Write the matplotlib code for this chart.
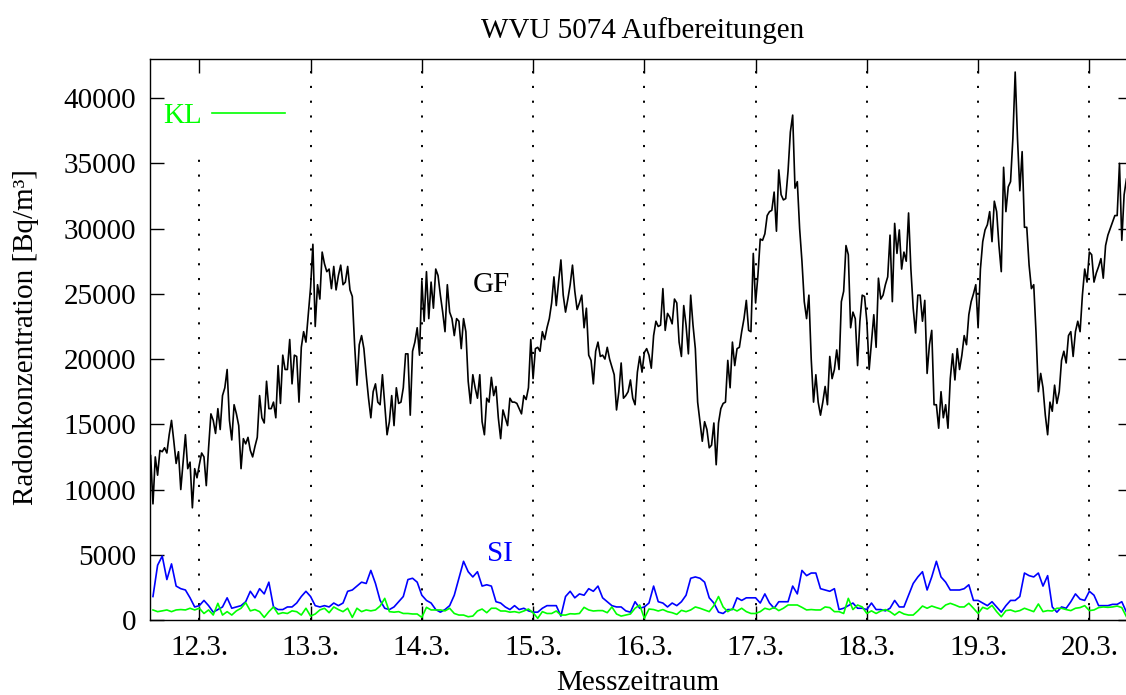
import numpy as np
import matplotlib
matplotlib.use("Agg")
import matplotlib.pyplot as plt

# Radon readings, kBq/m³. GF every 30 min from 11.3. 13:30, SI/KL hourly from 11.3. 14:00
gf_k = [
    12.6, 8.9, 12.5, 11.1, 13.0, 12.9, 13.2, 12.8, 14.2, 15.3, 13.7, 12.0,
    12.9, 10.0, 12.1, 14.2, 11.6, 12.1, 8.6, 11.6, 10.9, 11.9, 12.8, 12.5,
    10.3, 13.2, 15.8, 15.3, 14.3, 16.2, 14.6, 17.2, 17.8, 19.2, 15.3, 13.8,
    16.5, 15.8, 14.9, 11.6, 13.9, 13.5, 14.0, 13.0, 12.5, 13.3, 14.0, 17.2,
    15.5, 15.1, 18.3, 16.2, 16.2, 16.7, 15.5, 19.5, 16.6, 20.3, 19.2, 19.2,
    21.5, 18.1, 20.3, 20.2, 16.7, 20.9, 22.1, 21.3, 23.4, 25.5, 28.8, 22.5,
    25.7, 24.6, 28.2, 27.3, 26.7, 26.9, 25.4, 27.1, 25.3, 26.4, 27.2, 25.7,
    25.9, 27.1, 25.3, 24.8, 21.1, 18.0, 21.1, 21.8, 20.8, 18.8, 17.0, 15.5,
    17.5, 18.1, 16.7, 16.5, 18.8, 16.5, 14.2, 15.2, 17.2, 14.9, 17.8, 16.6,
    16.7, 17.8, 20.4, 20.4, 15.7, 20.6, 21.3, 22.4, 20.3, 26.0, 22.9, 26.7,
    23.1, 25.9, 23.9, 26.9, 26.4, 24.9, 23.6, 22.1, 25.7, 23.6, 23.1, 21.8,
    23.1, 22.9, 20.8, 23.1, 22.1, 18.3, 16.6, 18.8, 17.8, 17.0, 18.8, 15.2,
    14.2, 17.0, 16.7, 18.6, 17.2, 17.9, 15.5, 13.9, 16.1, 15.5, 14.9, 17.0,
    16.7, 16.7, 16.6, 16.2, 15.8, 17.2, 16.9, 17.8, 21.5, 18.5, 20.8, 20.9,
    20.6, 22.1, 21.5, 22.4, 23.1, 24.3, 26.3, 24.1, 25.9, 27.6, 24.9, 23.6,
    24.6, 25.7, 27.2, 25.2, 23.8, 24.3, 24.9, 22.4, 23.9, 20.3, 19.9, 18.1,
    20.6, 21.3, 20.2, 20.3, 20.0, 20.9, 20.0, 19.4, 18.8, 16.1, 17.5, 19.7,
    17.0, 17.2, 17.5, 18.4, 17.0, 16.5, 19.0, 20.2, 19.0, 20.5, 20.8, 20.3,
    19.3, 21.8, 22.9, 22.5, 22.6, 25.4, 22.2, 23.5, 23.2, 22.7, 24.6, 24.3,
    21.3, 20.2, 24.1, 22.6, 20.4, 24.9, 22.6, 20.8, 16.7, 15.2, 13.7, 15.2,
    14.6, 13.2, 13.4, 15.1, 11.9, 15.1, 16.2, 16.6, 16.7, 19.9, 17.8, 21.3,
    19.5, 20.8, 20.9, 22.1, 23.1, 24.5, 22.2, 22.1, 28.1, 24.3, 26.4, 29.2,
    29.1, 29.6, 31.0, 31.3, 31.4, 32.8, 29.8, 34.5, 32.6, 32.2, 32.3, 34.4,
    37.4, 38.7, 33.1, 33.6, 30.0, 27.5, 24.4, 23.1, 24.9, 20.0, 16.7, 18.8,
    16.7, 15.7, 16.7, 17.9, 16.5, 20.2, 18.5, 19.2, 20.7, 19.2, 24.4, 25.2,
    28.7, 28.0, 22.4, 23.6, 23.1, 19.5, 22.9, 24.9, 24.8, 22.9, 19.2, 21.3,
    23.4, 20.9, 26.2, 24.6, 24.9, 25.7, 26.3, 29.5, 24.4, 30.4, 28.1, 29.9,
    26.9, 28.2, 27.5, 31.2, 26.9, 23.9, 22.0, 24.9, 24.9, 22.9, 24.5, 18.9,
    21.1, 22.2, 16.5, 16.5, 14.7, 17.5, 15.5, 16.5, 14.7, 18.5, 20.4, 18.4,
    20.8, 19.2, 20.3, 21.8, 21.1, 23.4, 24.4, 25.0, 25.7, 22.4, 26.9, 29.0,
    29.9, 30.3, 31.3, 29.0, 32.1, 31.3, 28.7, 26.7, 34.7, 31.3, 33.2, 33.6,
    36.9, 42.0, 36.9, 32.9, 35.9, 30.1, 30.1, 27.2, 25.4, 25.7, 22.0, 17.5,
    18.9, 17.8, 15.7, 14.2, 16.7, 16.0, 18.0, 16.6, 17.5, 19.9, 20.6, 19.7,
    21.8, 22.1, 20.2, 22.1, 22.9, 22.1, 24.9, 26.9, 25.9, 28.2, 28.0, 25.9,
    26.6, 27.1, 27.7, 26.2, 28.7, 29.5, 30.0, 30.5, 31.0, 31.0, 35.0, 29.1,
    32.6, 33.8,
]

si_k = [
    1.8, 4.2, 4.9, 3.1, 4.3, 2.6, 2.4, 2.3, 1.7, 1.0,
    1.1, 1.5, 1.1, 0.6, 0.8, 1.0, 1.7, 0.9, 1.0, 1.1, 1.4, 2.2,
    1.7, 2.4, 2.0, 2.9, 1.0, 0.8, 0.8, 1.0, 1.0, 1.3, 1.8, 2.2,
    1.8, 1.1, 1.0, 1.1, 1.0, 1.3, 1.1, 1.3, 2.2, 2.3, 2.6, 2.9,
    2.8, 3.8, 2.8, 1.5, 0.9, 0.8, 1.0, 1.4, 1.8, 3.1, 3.2, 2.9,
    1.9, 1.5, 1.3, 0.8, 0.6, 0.8, 1.1, 1.9, 3.2, 4.5, 3.7, 3.3,
    3.7, 2.6, 2.7, 2.6, 1.4, 1.3, 1.0, 0.8, 1.1, 0.8, 0.9, 0.7,
    0.6, 0.6, 0.9, 1.1, 1.1, 1.1, 0.3, 1.8, 2.2, 1.7, 2.0, 1.9,
    2.4, 2.2, 2.6, 1.7, 1.4, 1.1, 1.0, 1.0, 0.7, 0.6, 1.4, 0.9,
    1.0, 1.3, 2.6, 1.4, 1.3, 1.0, 1.3, 1.1, 1.4, 1.9, 3.2, 3.3,
    3.2, 2.9, 1.7, 1.3, 0.6, 0.5, 0.8, 0.8, 1.7, 1.5, 1.7, 1.7,
    1.7, 1.3, 2.0, 1.3, 0.9, 1.4, 1.4, 1.4, 2.6, 2.0, 3.8, 3.4,
    3.6, 3.6, 2.4, 2.3, 2.2, 2.4, 0.8, 0.9, 1.1, 1.3, 0.9, 0.9,
    0.8, 1.3, 0.8, 0.8, 0.7, 0.9, 1.5, 1.0, 1.0, 1.9, 2.8, 3.3,
    3.7, 2.3, 3.3, 4.5, 3.3, 2.9, 2.3, 2.3, 2.3, 2.4, 2.7, 1.5,
    1.5, 1.3, 1.1, 1.4, 1.0, 0.6, 1.1, 1.5, 1.5, 1.8, 3.6, 3.4,
    3.3, 3.6, 2.6, 3.4, 1.0, 0.6, 1.0, 0.9, 1.4, 2.0, 1.6, 1.5,
    2.2, 1.9, 1.1, 1.1, 1.1, 1.2, 1.2, 1.4, 0.6,
]

kl_k = [
    0.77, 0.64, 0.7, 0.77, 0.64, 0.77, 0.8, 0.77, 0.9, 0.77,
    0.9, 0.5, 0.77, 0.38, 1.28, 0.38, 0.64, 0.38, 0.7, 0.9, 1.33, 0.7,
    0.8, 0.64, 0.2, 0.64, 1.0, 0.46, 0.56, 0.5, 0.7, 0.64, 0.38, 0.9,
    0.3, 0.46, 0.77, 0.9, 0.56, 1.0, 0.8, 0.64, 0.9, 0.2, 0.9, 0.64,
    0.77, 0.7, 0.77, 1.07, 1.66, 0.64, 0.6, 0.64, 0.5, 0.5, 0.46, 0.46,
    0.2, 0.97, 0.77, 0.77, 0.77, 0.7, 0.9, 0.5, 0.38, 0.38, 0.25, 0.3,
    0.69, 0.84, 0.56, 0.9, 0.9, 0.69, 0.69, 0.6, 0.64, 0.56, 0.69, 0.84,
    0.56, 0.13, 0.64, 0.5, 0.5, 0.69, 0.38, 0.38, 0.48, 0.46, 0.5, 0.97,
    0.77, 0.69, 0.72, 0.72, 0.56, 1.0, 0.46, 0.3, 0.38, 0.46, 0.9, 1.15,
    0.13, 0.84, 0.8, 0.69, 0.8, 0.64, 0.56, 0.43, 0.74, 0.64, 0.77, 1.0,
    0.9, 0.77, 0.64, 1.1, 1.8, 1.0, 0.64, 0.87, 0.69, 0.9, 0.64, 0.5,
    0.5, 0.64, 0.9, 0.8, 0.97, 0.72, 0.9, 1.15, 1.15, 1.15, 0.97, 0.77,
    0.8, 0.77, 0.77, 1.0, 0.95, 0.64, 0.64, 0.5, 1.66, 0.8, 1.15, 1.0,
    0.5, 0.7, 0.5, 0.69, 0.8, 0.64, 0.38, 0.64, 0.46, 0.38, 0.38, 0.7,
    1.07, 0.9, 1.07, 0.95, 0.84, 1.15, 1.28, 1.15, 1.0, 1.0, 1.28, 0.9,
    0.5, 0.97, 0.84, 1.12, 0.64, 0.25, 0.72, 0.77, 0.64, 0.72, 0.9, 0.77,
    0.64, 1.23, 0.64, 0.72, 0.69, 0.9, 0.9, 0.8, 0.72, 0.9, 0.95, 1.1,
    0.72, 0.77, 0.95, 1.0, 0.97, 1.0, 1.07, 0.95, 0.25,
]

day_labels = ['12.3.', '13.3.', '14.3.', '15.3.', '16.3.', '17.3.', '18.3.', '19.3.', '20.3.']
y_ticks = [0, 5000, 10000, 15000, 20000, 25000, 30000, 35000, 40000]

# hours relative to 12.3. 00:00
gf_hours = -10.5 + 0.5 * np.arange(len(gf_k))
si_hours = -10 + np.arange(len(si_k))
kl_hours = -10 + np.arange(len(kl_k))
gf = np.array(gf_k) * 1000
si = np.array(si_k) * 1000
kl = np.array(kl_k) * 1000

plt.rcParams['font.family'] = ['Liberation Serif', 'DejaVu Serif']
plt.rcParams['font.size'] = 21

W, H = 1126, 695
fig = plt.figure(figsize=(W / 100, H / 100), dpi=100)
ax = fig.add_axes([150 / W, 1 - 620 / H, (1132 - 150) / W, (620 - 59) / H])

day_pos = np.arange(len(day_labels)) * 24
for i, d in enumerate(day_pos):
    # key area blanks the first grid line near the top
    top = (620 - 155) / (620 - 59) if i == 0 else 1.0
    ax.axvline(d, ymin=0, ymax=top, color='black', lw=1.4,
               linestyle=(0, (1.1, 6.5)), zorder=1)

ax.plot(gf_hours, gf, color='black', lw=1.2, zorder=3)
ax.plot(si_hours, si, color='#0000ff', lw=1.2, zorder=3)
kl_line, = ax.plot(kl_hours, kl, color='#00ff00', lw=1.2, zorder=4, label='KL')

ax.text(59.0, 25150, 'GF', color='black', va='baseline', ha='left')
ax.text(62.0, 4490, 'SI', color='#0000ff', va='baseline', ha='left')

ax.legend(handles=[kl_line], loc='upper left', bbox_to_anchor=(163 / W, 1 - 103 / H),
          bbox_transform=fig.transFigure, frameon=False, markerfirst=False,
          handlelength=2.5, handletextpad=0.34, borderpad=0, borderaxespad=0,
          labelcolor='linecolor')

ax.set_xlim(-10.64, 201.2)
ax.set_ylim(0, 43000)
ax.set_xticks(day_pos)
ax.set_xticklabels(day_labels)
ax.set_yticks(y_ticks)
ax.set_yticklabels([str(v) for v in y_ticks])
ax.tick_params(direction='in', length=10, width=1.0, top=True, right=True)
ax.tick_params(axis='x', pad=11)
ax.tick_params(axis='y', pad=10)
for s in ax.spines.values():
    s.set_linewidth(1.0)

fig.text(643 / W, 1 - 38 / H, 'WVU 5074 Aufbereitungen', ha='center', va='baseline')
fig.text(638 / W, 1 - 690 / H, 'Messzeitraum', ha='center', va='baseline')
fig.text(33 / W, 1 - 337 / H, 'Radonkonzentration [Bq/m³]', rotation=90,
         rotation_mode='anchor', ha='center', va='baseline')

fig.savefig('out.png', dpi=100)
